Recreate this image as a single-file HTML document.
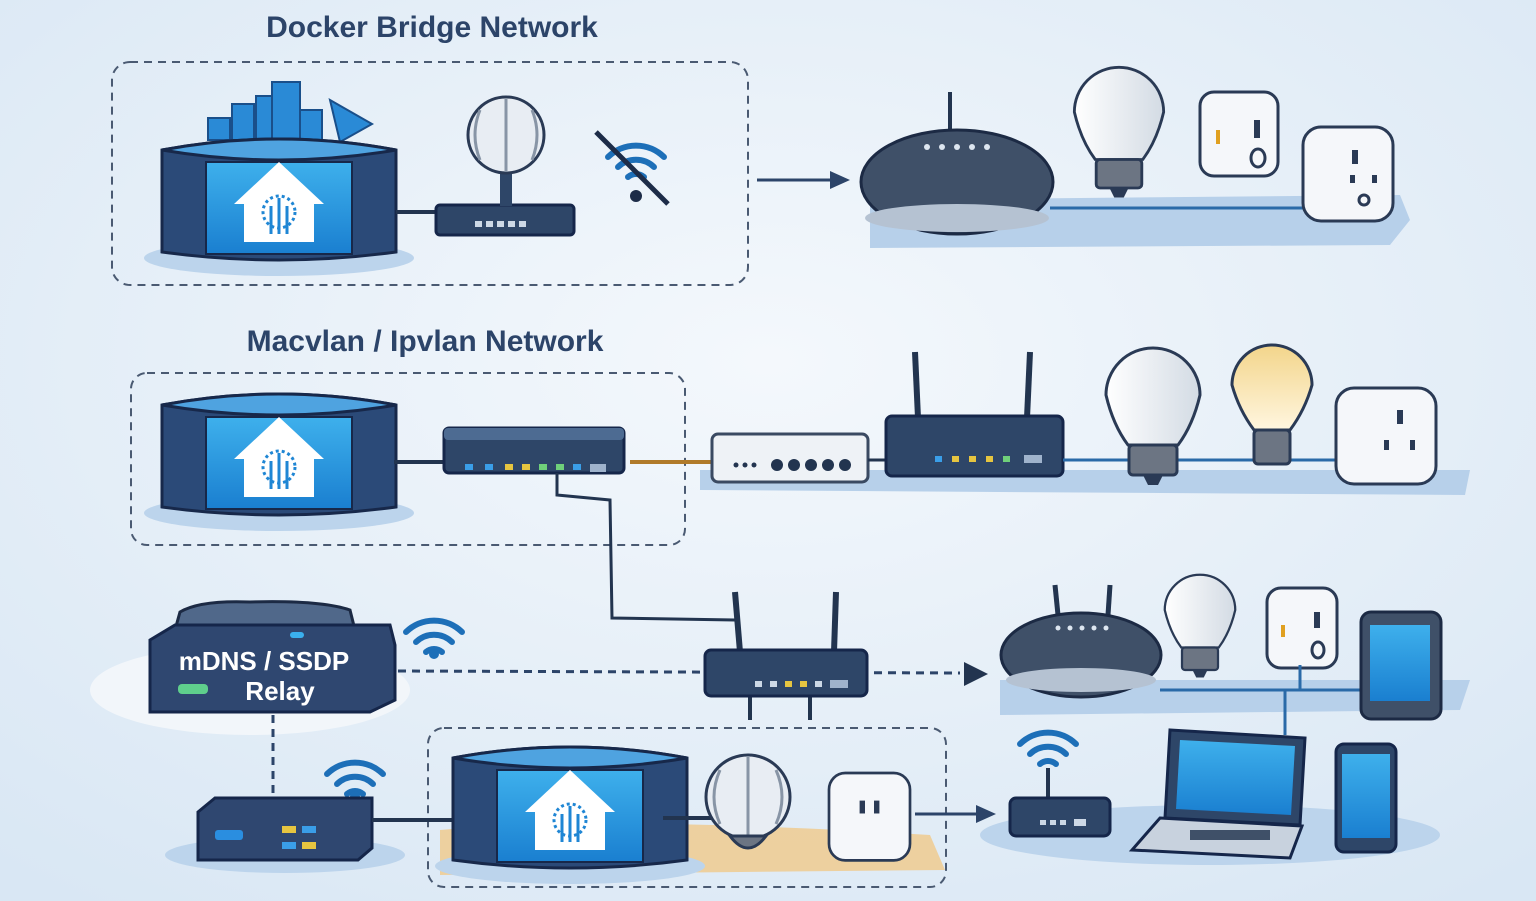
<!DOCTYPE html>
<html><head><meta charset="utf-8"><style>
html,body{margin:0;padding:0;width:1536px;height:901px;overflow:hidden}
svg{display:block}
text{font-family:"Liberation Sans",sans-serif;font-weight:bold}
</style></head><body>
<svg width="1536" height="901" viewBox="0 0 1536 901" xmlns="http://www.w3.org/2000/svg">
<defs>
<radialGradient id="bg" cx="50%" cy="40%" r="75%"><stop offset="0" stop-color="#f4f8fc"/><stop offset="1" stop-color="#d9e7f4"/></radialGradient>
<linearGradient id="scr" x1="0" y1="0" x2="0" y2="1"><stop offset="0" stop-color="#3eb0ec"/><stop offset="1" stop-color="#1a7fd0"/></linearGradient>
<linearGradient id="bulb" x1="0" y1="0" x2="1" y2="0"><stop offset="0" stop-color="#ffffff"/><stop offset="1" stop-color="#d3dbe4"/></linearGradient>
<linearGradient id="wbulb" x1="0" y1="0" x2="0" y2="1"><stop offset="0" stop-color="#f3d58a"/><stop offset="1" stop-color="#fff6df"/></linearGradient>
<g id="house"><path d="M-45 0 L0 -42 L45 0 L35 0 L35 38 L-35 38 L-35 0 Z" fill="#fff"/><circle cx="0" cy="8" r="16" fill="none" stroke="#1f86d4" stroke-width="3" stroke-dasharray="3 3"/><path d="M0 -6 V30 M-8 2 V30 M8 2 V30" stroke="#1f86d4" stroke-width="3" fill="none"/></g>
<g id="server">
<ellipse cx="117" cy="118" rx="135" ry="18" fill="#bcd4ec"/>
<path d="M0 10 Q117 -12 234 10 L234 112 Q117 128 0 112 Z" fill="#2b4a78" stroke="#17284a" stroke-width="3"/>
<path d="M0 10 Q117 -12 234 10 Q117 30 0 10Z" fill="#4fa3e0" stroke="#17284a" stroke-width="3"/>
<rect x="44" y="22" width="146" height="92" fill="url(#scr)" stroke="#17284a" stroke-width="2"/>
<use href="#house" x="117" y="64"/>
</g>
<g id="router">
<rect x="0" y="0" width="180" height="45" rx="5" fill="#2e4668" stroke="#15264a" stroke-width="3"/>
<rect x="0" y="0" width="180" height="12" rx="4" fill="#4d6b92"/>
</g>
<g id="plug">
<rect x="0" y="0" width="90" height="95" rx="18" fill="#f5f7fa" stroke="#2a3a55" stroke-width="3"/>
<rect x="34" y="30" width="6" height="14" fill="#2a3a55"/><rect x="50" y="30" width="6" height="14" fill="#2a3a55"/>
</g>
<g id="bulbi">
<path d="M-47 0 A47 47 0 1 1 47 0 Q40 30 25 50 L-25 50 Q-40 30 -47 0Z" fill="url(#bulb)" stroke="#2a3a55" stroke-width="3"/>
<rect x="-24" y="50" width="48" height="30" rx="4" fill="#6c7583" stroke="#2a3a55" stroke-width="3"/>
<path d="M-10 80 H10 L5 90 H-5Z" fill="#2a3a55"/>
</g>
<g id="wifi" fill="none" stroke="#1d6fb8" stroke-width="6" stroke-linecap="round">
<path d="M-28 -8 A40 40 0 0 1 28 -8"/><path d="M-18 2 A26 26 0 0 1 18 2"/><path d="M-8 12 A12 12 0 0 1 8 12"/>
</g>
</defs>
<rect width="1536" height="901" fill="url(#bg)"/>

<text x="432" y="37" font-size="30" fill="#2c4469" text-anchor="middle">Docker Bridge Network</text>
<text x="425" y="351" font-size="30" fill="#2c4469" text-anchor="middle">Macvlan / Ipvlan Network</text>

<g fill="none" stroke="#4a5a72" stroke-width="2" stroke-dasharray="8 6">
<rect x="112" y="62" width="636" height="223" rx="18"/>
<rect x="131" y="373" width="554" height="172" rx="16"/>
<rect x="428" y="728" width="518" height="159" rx="16"/>
</g>

<!-- Section 1 -->
<g fill="#2a8ad6" stroke="#1a4f8a" stroke-width="2">
<rect x="208" y="118" width="22" height="22"/><rect x="232" y="104" width="22" height="36"/><rect x="256" y="96" width="22" height="44"/><rect x="272" y="82" width="28" height="58"/><rect x="300" y="110" width="22" height="30"/>
<path d="M330 100 L372 124 L340 142 Z"/>
</g>
<use href="#server" x="162" y="140"/>
<line x1="396" y1="212" x2="436" y2="212" stroke="#22344f" stroke-width="4"/>
<rect x="436" y="205" width="138" height="30" rx="4" fill="#2e4668" stroke="#15264a" stroke-width="3"/>
<g fill="#ccd8e6"><rect x="475" y="221" width="7" height="6"/><rect x="486" y="221" width="7" height="6"/><rect x="497" y="221" width="7" height="6"/><rect x="508" y="221" width="7" height="6"/><rect x="519" y="221" width="7" height="6"/></g>
<rect x="500" y="172" width="12" height="34" fill="#2e4668"/>
<circle cx="506" cy="135" r="38" fill="#e8edf3" stroke="#2a3a55" stroke-width="3"/>
<path d="M506 98 V172 M480 110 Q470 135 480 160 M532 110 Q542 135 532 160" stroke="#8895a6" stroke-width="3" fill="none"/>
<use href="#wifi" x="636" y="165"/>
<circle cx="636" cy="196" r="6" fill="#1d2c48"/>
<line x1="596" y1="132" x2="668" y2="204" stroke="#1d2c48" stroke-width="5"/>
<line x1="757" y1="180" x2="830" y2="180" stroke="#2c4469" stroke-width="3"/>
<path d="M830 171 L850 180 L830 189Z" fill="#2c4469"/>

<path d="M870 200 L1400 195 L1410 220 L1390 245 L870 248 Z" fill="#b7d0ea"/>
<line x1="950" y1="92" x2="950" y2="130" stroke="#22344f" stroke-width="4"/>
<ellipse cx="957" cy="182" rx="96" ry="52" fill="#3f5068" stroke="#1c2a44" stroke-width="3"/>
<ellipse cx="957" cy="218" rx="92" ry="14" fill="#b5c2d2"/>
<g fill="#dde6f0"><circle cx="927" cy="147" r="3"/><circle cx="942" cy="147" r="3"/><circle cx="957" cy="147" r="3"/><circle cx="972" cy="147" r="3"/><circle cx="987" cy="147" r="3"/></g>
<use href="#bulbi" x="1119" y="112" transform="translate(1119 112) scale(0.95) translate(-1119 -112)"/>
<line x1="1050" y1="208" x2="1320" y2="208" stroke="#2a6aa8" stroke-width="3"/>
<rect x="1200" y="92" width="78" height="84" rx="14" fill="#f5f7fa" stroke="#2a3a55" stroke-width="3"/>
<rect x="1216" y="130" width="4" height="14" fill="#e0a020"/><ellipse cx="1258" cy="158" rx="7" ry="9" fill="none" stroke="#2a3a55" stroke-width="3"/><rect x="1254" y="120" width="6" height="18" fill="#2a3a55"/>
<rect x="1303" y="127" width="90" height="94" rx="18" fill="#f5f7fa" stroke="#2a3a55" stroke-width="3"/>
<rect x="1352" y="150" width="6" height="14" fill="#2a3a55"/><rect x="1350" y="175" width="5" height="8" fill="#2a3a55"/><rect x="1372" y="175" width="5" height="8" fill="#2a3a55"/><circle cx="1364" cy="200" r="5" fill="none" stroke="#2a3a55" stroke-width="3"/>

<!-- Section 2 -->
<use href="#server" x="162" y="395"/>
<line x1="394" y1="462" x2="444" y2="462" stroke="#22344f" stroke-width="4"/>
<use href="#router" x="444" y="428"/>
<g><rect x="465" y="464" width="8" height="6" fill="#3a9ee8"/><rect x="485" y="464" width="8" height="6" fill="#3a9ee8"/><rect x="505" y="464" width="8" height="6" fill="#e6c540"/><rect x="522" y="464" width="8" height="6" fill="#e6c540"/><rect x="539" y="464" width="8" height="6" fill="#6fd07a"/><rect x="556" y="464" width="8" height="6" fill="#6fd07a"/><rect x="573" y="464" width="8" height="6" fill="#3a9ee8"/><rect x="590" y="464" width="16" height="8" fill="#9fb3cc"/></g>
<line x1="630" y1="462" x2="712" y2="462" stroke="#b07a2a" stroke-width="4"/>
<path d="M557 473 L557 495 L610 500 L612 618 L735 620" fill="none" stroke="#22344f" stroke-width="3"/>
<path d="M700 470 L1470 470 L1465 495 L700 490 Z" fill="#b7d0ea"/>
<rect x="712" y="434" width="156" height="48" rx="6" fill="#eef2f6" stroke="#3a4a62" stroke-width="3"/>
<g fill="#22344f"><circle cx="736" cy="465" r="2.5"/><circle cx="745" cy="465" r="2.5"/><circle cx="754" cy="465" r="2.5"/><circle cx="777" cy="465" r="6"/><circle cx="794" cy="465" r="6"/><circle cx="811" cy="465" r="6"/><circle cx="828" cy="465" r="6"/><circle cx="845" cy="465" r="6"/></g>
<line x1="868" y1="460" x2="886" y2="460" stroke="#22344f" stroke-width="3"/>
<line x1="915" y1="352" x2="918" y2="418" stroke="#22344f" stroke-width="6"/><line x1="1030" y1="352" x2="1027" y2="418" stroke="#22344f" stroke-width="6"/>
<rect x="886" y="416" width="177" height="60" rx="6" fill="#2e4668" stroke="#15264a" stroke-width="3"/>
<g><rect x="935" y="456" width="7" height="6" fill="#3a9ee8"/><rect x="952" y="456" width="7" height="6" fill="#e6c540"/><rect x="969" y="456" width="7" height="6" fill="#e6c540"/><rect x="986" y="456" width="7" height="6" fill="#e6c540"/><rect x="1003" y="456" width="7" height="6" fill="#6fd07a"/><rect x="1024" y="455" width="18" height="8" fill="#9fb3cc"/></g>
<line x1="1063" y1="460" x2="1345" y2="460" stroke="#2a6aa8" stroke-width="3"/>
<use href="#bulbi" x="1153" y="395"/>
<path d="M1232 385 A40 40 0 1 1 1312 385 Q1305 410 1290 430 L1254 430 Q1239 410 1232 385Z" fill="url(#wbulb)" stroke="#2a3a55" stroke-width="3"/>
<rect x="1254" y="430" width="36" height="34" rx="4" fill="#6c7583" stroke="#2a3a55" stroke-width="3"/>
<rect x="1336" y="388" width="100" height="96" rx="18" fill="#f5f7fa" stroke="#2a3a55" stroke-width="3"/>
<rect x="1397" y="410" width="6" height="14" fill="#2a3a55"/><rect x="1384" y="440" width="5" height="10" fill="#2a3a55"/><rect x="1410" y="440" width="5" height="10" fill="#2a3a55"/>

<!-- Relay -->
<ellipse cx="250" cy="690" rx="160" ry="45" fill="#f2f6fa"/>
<path d="M180 612 Q200 600 250 602 Q320 600 350 610 L355 630 L175 630 Z" fill="#50688a" stroke="#1c2a44" stroke-width="3"/>
<path d="M150 640 L175 625 L390 625 L395 645 L395 700 L370 712 L150 712 Z" fill="#2f4770" stroke="#15264a" stroke-width="3"/>
<rect x="290" y="632" width="14" height="6" rx="3" fill="#3ab0ee"/>
<rect x="178" y="684" width="30" height="10" rx="4" fill="#5fcf8c"/>
<text x="264" y="670" font-size="26" fill="#fff" text-anchor="middle">mDNS / SSDP</text>
<text x="280" y="700" font-size="26" fill="#fff" text-anchor="middle">Relay</text>
<use href="#wifi" x="434" y="640"/><circle cx="434" cy="654" r="5" fill="#1d6fb8"/>
<line x1="398" y1="671" x2="960" y2="673" stroke="#2c4469" stroke-width="3" stroke-dasharray="8 6"/>
<path d="M964 662 L988 674 L964 686Z" fill="#22344f"/>
<line x1="273" y1="715" x2="273" y2="798" stroke="#2c4469" stroke-width="3" stroke-dasharray="8 6"/>

<line x1="735" y1="592" x2="740" y2="652" stroke="#22344f" stroke-width="6"/><line x1="836" y1="592" x2="834" y2="652" stroke="#22344f" stroke-width="6"/>
<line x1="750" y1="695" x2="750" y2="720" stroke="#22344f" stroke-width="4"/><line x1="810" y1="695" x2="810" y2="720" stroke="#22344f" stroke-width="4"/>
<rect x="705" y="650" width="162" height="46" rx="6" fill="#2e4668" stroke="#15264a" stroke-width="3"/>
<g><rect x="755" y="681" width="7" height="6" fill="#ccd8e6"/><rect x="770" y="681" width="7" height="6" fill="#ccd8e6"/><rect x="785" y="681" width="7" height="6" fill="#e6c540"/><rect x="800" y="681" width="7" height="6" fill="#e6c540"/><rect x="815" y="681" width="7" height="6" fill="#ccd8e6"/><rect x="830" y="680" width="18" height="8" fill="#9fb3cc"/></g>

<!-- bottom left router -->
<ellipse cx="285" cy="855" rx="120" ry="18" fill="#bcd4ec"/>
<use href="#wifi" x="355" y="782"/><circle cx="355" cy="796" r="5" fill="#1d6fb8"/>
<path d="M198 812 L215 798 L372 798 L372 848 L358 860 L198 860 Z" fill="#2f4770" stroke="#15264a" stroke-width="3"/>
<rect x="215" y="830" width="28" height="10" rx="3" fill="#2a8ee0"/>
<rect x="282" y="826" width="14" height="7" fill="#e6c540"/><rect x="302" y="826" width="14" height="7" fill="#3a9ee8"/><rect x="282" y="842" width="14" height="7" fill="#3a9ee8"/><rect x="302" y="842" width="14" height="7" fill="#e6c540"/>
<line x1="372" y1="820" x2="455" y2="820" stroke="#22344f" stroke-width="4"/>

<!-- bottom section 3 -->
<path d="M440 830 Q600 815 930 835 L945 870 L440 875 Z" fill="#f0c98a" opacity="0.8"/>
<use href="#server" x="453" y="748"/>
<line x1="663" y1="818" x2="712" y2="818" stroke="#22344f" stroke-width="4"/>
<circle cx="748" cy="797" r="42" fill="#e8edf3" stroke="#2a3a55" stroke-width="3"/>
<path d="M748 756 V838 M720 770 Q708 797 720 824 M776 770 Q788 797 776 824" stroke="#8895a6" stroke-width="3" fill="none"/>
<path d="M730 836 Q748 860 766 836Z" fill="#6c7583" stroke="#2a3a55" stroke-width="3"/>
<use href="#plug" x="829" y="773" transform="translate(829 773) scale(0.9 0.92) translate(-829 -773)"/>
<line x1="915" y1="814" x2="978" y2="814" stroke="#2c4469" stroke-width="3"/>
<path d="M976 805 L996 814 L976 823Z" fill="#2c4469"/>

<!-- right bottom cluster -->
<path d="M1000 680 L1470 680 L1460 710 L1000 715 Z" fill="#b7d0ea"/>
<ellipse cx="1210" cy="835" rx="230" ry="30" fill="#bcd4ec"/>
<line x1="1055" y1="585" x2="1058" y2="615" stroke="#22344f" stroke-width="5"/><line x1="1110" y1="585" x2="1108" y2="615" stroke="#22344f" stroke-width="5"/>
<ellipse cx="1081" cy="655" rx="80" ry="42" fill="#3f5068" stroke="#1c2a44" stroke-width="3"/>
<ellipse cx="1081" cy="680" rx="75" ry="12" fill="#b5c2d2"/>
<g fill="#dde6f0"><circle cx="1058" cy="628" r="2.5"/><circle cx="1070" cy="628" r="2.5"/><circle cx="1082" cy="628" r="2.5"/><circle cx="1094" cy="628" r="2.5"/><circle cx="1106" cy="628" r="2.5"/></g>
<g transform="translate(1200 610) scale(0.75)"><use href="#bulbi"/></g>
<rect x="1267" y="588" width="70" height="80" rx="14" fill="#f5f7fa" stroke="#2a3a55" stroke-width="3"/>
<rect x="1281" y="625" width="4" height="12" fill="#e0a020"/><ellipse cx="1318" cy="650" rx="6" ry="8" fill="none" stroke="#2a3a55" stroke-width="3"/><rect x="1314" y="612" width="6" height="16" fill="#2a3a55"/>
<path d="M1160 690 H1360 M1285 690 V735 M1300 665 V690" stroke="#2a6aa8" stroke-width="3" fill="none"/>
<rect x="1361" y="612" width="80" height="107" rx="10" fill="#3f5068" stroke="#1c2a44" stroke-width="3"/>
<rect x="1370" y="625" width="60" height="76" fill="url(#scr)"/>
<use href="#wifi" x="1048" y="752"/>
<line x1="1048" y1="768" x2="1048" y2="800" stroke="#22344f" stroke-width="4"/>
<rect x="1010" y="798" width="100" height="38" rx="6" fill="#2e4668" stroke="#15264a" stroke-width="3"/>
<g fill="#ccd8e6"><rect x="1040" y="820" width="6" height="5"/><rect x="1050" y="820" width="6" height="5"/><rect x="1060" y="820" width="6" height="5"/><rect x="1074" y="819" width="12" height="7"/></g>
<path d="M1170 730 L1305 738 L1300 825 L1165 818 Z" fill="#2e4668" stroke="#15264a" stroke-width="3"/>
<path d="M1180 740 L1295 746 L1291 815 L1176 809Z" fill="url(#scr)"/>
<path d="M1160 818 L1302 826 L1290 858 L1132 850 Z" fill="#c8d2de" stroke="#15264a" stroke-width="3"/>
<rect x="1190" y="830" width="80" height="10" fill="#3f5068"/>
<rect x="1336" y="744" width="60" height="108" rx="8" fill="#2e4668" stroke="#15264a" stroke-width="3"/>
<rect x="1342" y="754" width="48" height="84" fill="url(#scr)"/>
</svg>
</body></html>
